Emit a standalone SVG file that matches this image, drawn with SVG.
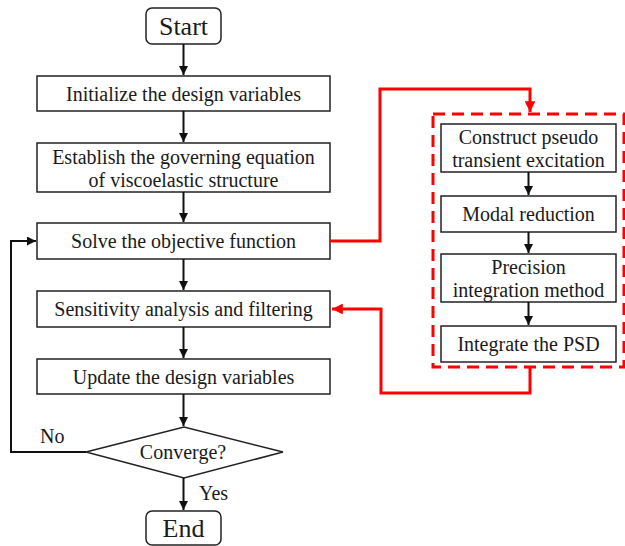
<svg xmlns="http://www.w3.org/2000/svg" width="625" height="546" viewBox="0 0 625 546">
<style>
.box{fill:#fff;stroke:#222;stroke-width:1.5}
.t{font-family:'Liberation Serif',serif;font-size:20px;fill:#1a1a1a;text-anchor:middle}
.tl{font-family:'Liberation Serif',serif;font-size:26px;fill:#1a1a1a;text-anchor:middle}
.lbl{font-family:'Liberation Serif',serif;font-size:20px;fill:#1a1a1a}
.k{fill:none;stroke:#111;stroke-width:2}
.r{fill:none;stroke:#f00;stroke-width:3}
</style>
<defs>
<marker id="ak" viewBox="0 0 10 10" refX="10" refY="5" markerWidth="4.5" markerHeight="4.5" orient="auto" markerUnits="strokeWidth"><path d="M0,0L10,5L0,10z" fill="#111"/></marker>
<marker id="ar" viewBox="0 0 10 10" refX="10" refY="5" markerWidth="3.6" markerHeight="3.6" orient="auto" markerUnits="strokeWidth"><path d="M0,0L10,5L0,10z" fill="#f00"/></marker>
</defs>
<g id="group-dashed">
<rect x="433" y="114" width="191" height="253" fill="none" stroke="#f00" stroke-width="3" stroke-dasharray="12 7"/>
</g>
<g id="start"><rect class="box" x="146" y="8" width="75" height="36" rx="6"/><text class="tl" x="183.5" y="35">Start</text></g>
<g id="init"><rect class="box" x="37" y="76" width="293" height="35"/><text class="t" x="183.5" y="100.5">Initialize the design variables</text></g>
<g id="establish"><rect class="box" x="37" y="143" width="293" height="49"/><text class="t" x="183.5" y="163.5">Establish the governing equation</text><text class="t" x="183.5" y="186.5">of viscoelastic structure</text></g>
<g id="solve"><rect class="box" x="37" y="223" width="293" height="36"/><text class="t" x="183.5" y="247.5">Solve the objective function</text></g>
<g id="sens"><rect class="box" x="37" y="291" width="293" height="36"/><text class="t" x="183.5" y="315.5">Sensitivity analysis and filtering</text></g>
<g id="update"><rect class="box" x="37" y="359" width="293" height="35"/><text class="t" x="183.5" y="383.5">Update the design variables</text></g>
<g id="converge"><polygon class="box" points="86,452 184,427 283,452 184,478"/><text class="t" x="183" y="458.5">Converge?</text></g>
<g id="end"><rect class="box" x="146" y="511" width="75" height="34" rx="6"/><text class="tl" x="183.5" y="537">End</text></g>
<g id="construct"><rect class="box" x="441" y="124" width="175" height="48"/><text class="t" x="528.5" y="143.5">Construct pseudo</text><text class="t" x="528.5" y="166.5">transient excitation</text></g>
<g id="modal"><rect class="box" x="441" y="196" width="175" height="36"/><text class="t" x="528.5" y="220.5">Modal reduction</text></g>
<g id="precision"><rect class="box" x="441" y="254" width="175" height="48"/><text class="t" x="528.5" y="273.5">Precision</text><text class="t" x="528.5" y="296.5">integration method</text></g>
<g id="integrate"><rect class="box" x="441" y="326" width="175" height="36"/><text class="t" x="528.5" y="350.5">Integrate the PSD</text></g>
<g id="connectors">
<line class="k" x1="183.5" y1="44" x2="183.5" y2="75" marker-end="url(#ak)"/>
<line class="k" x1="183.5" y1="111" x2="183.5" y2="142" marker-end="url(#ak)"/>
<line class="k" x1="183.5" y1="192" x2="183.5" y2="222" marker-end="url(#ak)"/>
<line class="k" x1="183.5" y1="259" x2="183.5" y2="290" marker-end="url(#ak)"/>
<line class="k" x1="183.5" y1="327" x2="183.5" y2="358" marker-end="url(#ak)"/>
<line class="k" x1="183.5" y1="394" x2="183.5" y2="426" marker-end="url(#ak)"/>
<line class="k" x1="183.5" y1="478" x2="183.5" y2="510" marker-end="url(#ak)"/>
<polyline class="k" points="86,452 11,452 11,241 36,241" marker-end="url(#ak)"/>
<line class="k" x1="528.5" y1="172" x2="528.5" y2="195" marker-end="url(#ak)"/>
<line class="k" x1="528.5" y1="232" x2="528.5" y2="253" marker-end="url(#ak)"/>
<line class="k" x1="528.5" y1="302" x2="528.5" y2="325" marker-end="url(#ak)"/>
<polyline class="r" points="330,241 380,241 380,89 530,89 530,112" marker-end="url(#ar)"/>
<polyline class="r" points="530,368 530,393 381,393 381,309 332,309" marker-end="url(#ar)"/>
<text class="lbl" x="40" y="443">No</text>
<text class="lbl" x="199" y="500">Yes</text>
</g>
</svg>
